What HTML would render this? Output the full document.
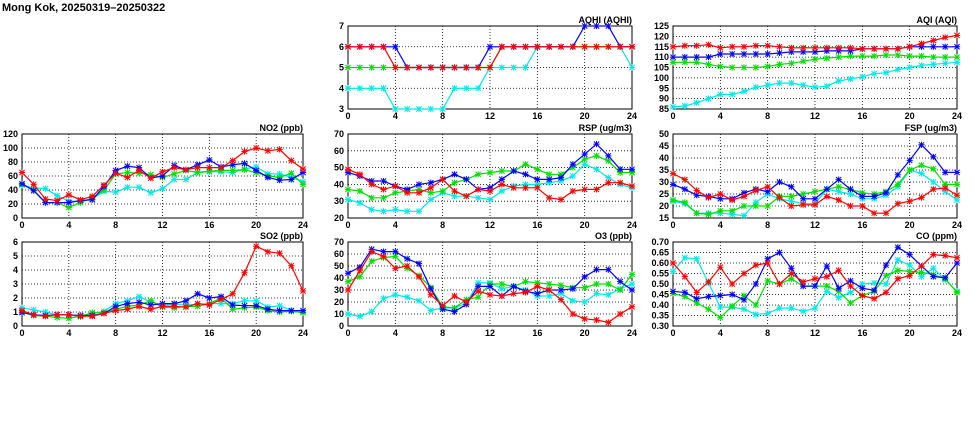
<!DOCTYPE html>
<html><head><meta charset="utf-8"><style>
html,body{margin:0;padding:0;background:#fff;}
svg{display:block;font-family:"Liberation Sans",sans-serif;}
</style></head><body>
<svg id="chart" width="975" height="447" viewBox="0 0 975 447">
<text x="2" y="11" font-size="11" font-weight="bold">Mong Kok, 20250319–20250322</text>
</svg>
<script>
const hours = [0,1,2,3,4,5,6,7,8,9,10,11,12,13,14,15,16,17,18,19,20,21,22,23,24];
const xTicks = [0,4,8,12,16,20,24];
const panelTitles = ["AQHI (AQHI)","AQI (AQI)","NO2 (ppb)","RSP (ug/m3)","FSP (ug/m3)","SO2 (ppb)","O3 (ppb)","CO (ppm)"];
const aqhiRed   = [6,6,6,6,5,5,5,5,5,5,5,5,5,6,6,6,6,6,6,6,6,6,6,6,6];
const aqhiBlue  = [6,6,6,6,6,5,5,5,5,5,5,5,6,6,6,6,6,6,6,6,7,7,7,6,6];
const aqhiGreen = [5,5,5,5,5,5,5,5,5,5,5,5,5,6,6,6,6,6,6,6,6,6,6,6,6];
const aqhiCyan  = [4,4,4,4,3,3,3,3,3,4,4,4,5,5,5,5,6,6,6,6,6,6,6,6,5];
const aqiRed   = [115,115.5,115.5,116,114.5,115,115,115.5,115.5,115,114.5,114.5,114.5,114.5,114.5,114.5,114,114,114,114,115,116.5,118,119.5,120.5];
const aqiBlue  = [110,110,110,110,111.5,111.5,111.5,111.5,111.5,112,112.5,112.5,112.5,113,113,113,114,114,114,114,115,115,115,115,115];
const aqiGreen = [107.5,107.5,107.5,106.5,105.5,105,105,105,105.5,106.5,107,108,109,109.5,110,110.5,110.5,110.5,111,111,110.5,110.5,110,110,110];
const aqiCyan  = [86,86.5,88,90,92,92,93.5,95.5,96.5,97.5,97.5,96.5,95.5,96,98.5,99.5,100.5,102,102.5,104,105,106,106.5,107,107.5];
const no2Red   = [65,48,27,25,33,26,31,47,64,58,68,57,66,72,69,72,72,72,82,95,100,96,98,82,70];
const no2Blue  = [49,39,22,22,22,25,26,45,68,74,72,57,60,75,69,76,83,73,76,78,68,58,54,55,65];
const no2Green = [48,40,22,22,15,22,29,40,63,65,64,62,58,63,68,65,67,68,68,69,65,60,58,64,48];
const no2Cyan  = [47,43,42,32,24,24,27,38,37,44,44,36,42,55,55,65,66,66,65,70,73,63,63,58,52];
const rspRed   = [49,46,40,37,39,35,35,38,43,36,33,37,36,40,38,38,38,32,31,36,37,37,41,41,39];
const rspBlue  = [47,45,42,42,39,37,40,41,43,46,43,37,38,43,48,46,43,43,44,52,58,64,57,49,49];
const rspGreen = [37,36,32,32,35,36,37,35,36,41,43,46,47,48,48,52,49,46,46,50,55,57,54,47,47];
const rspCyan  = [31,29,25,24,25,24,24,31,35,33,33,32,31,36,39,40,40,41,42,45,52,49,44,40,38];
const fspRed   = [33.5,31,26.5,23.5,25,22.5,24,26.5,28,23.5,20,20.5,20.5,24,22.5,20,20,17,17,21,22,23.5,27,27.5,24.5];
const fspBlue  = [29,27,24.5,24,23,23,25.5,27,26,30,28,23,23,27,31,27,24,24,25.5,33,39,45.5,40.5,34,34];
const fspGreen = [22.5,21.5,17,16.5,18,18,20,20,20,24,24,25,26,27,28,27,25.5,25,26,29,35,37,35.5,29,29];
const fspCyan  = [22,21,17,17,17,16.5,16,21.5,25,23,22,21,21,27,26,25,23,23,24.5,28,35,33.5,30,26,22.5];
const so2Red   = [1.1,0.8,0.7,0.8,0.8,0.7,0.7,0.9,1.1,1.2,1.4,1.2,1.4,1.4,1.35,1.6,1.5,1.9,2.3,3.8,5.7,5.3,5.2,4.3,2.5];
const so2Blue  = [0.95,0.8,0.75,0.8,0.8,0.75,0.75,0.9,1.4,1.6,1.7,1.5,1.6,1.6,1.8,2.3,2.0,2.1,1.5,1.45,1.45,1.2,1.1,1.1,1.1];
const so2Green = [1.0,0.75,0.7,0.6,0.55,0.7,0.95,0.95,1.2,1.4,1.5,1.8,1.35,1.3,1.4,1.4,1.6,2.0,1.2,1.3,1.35,1.1,1.0,1.05,0.95];
const so2Cyan  = [1.3,1.15,1.0,0.8,0.8,0.65,0.9,1.05,1.6,1.8,2.1,1.7,1.5,1.55,1.5,1.55,1.6,1.6,1.6,1.8,1.8,1.35,1.45,1.1,1.0];
const o3Red   = [30,46,62,58,48,50,41,26,17,25,20,29,26,25,27,28,33,30,22,10,6,5,3,10,16];
const o3Blue  = [44,49,64,62,62,56,52,31,14,12,18,33,33,25,33,29,27,30,30,31,41,47,47,37,30];
const o3Green = [37,41,54,57,58,48,42,32,16,15,22,24,35,35,33,37,36,35,34,32,32,35,35,30,43];
const o3Cyan  = [10,8,12,23,26,24,21,13,15,15,19,36,36,31,33,30,25,25,27,21,20,27,26,31,35];
const coRed   = [.60,.535,.46,.51,.58,.50,.55,.59,.60,.50,.55,.51,.525,.535,.565,.49,.445,.43,.46,.525,.54,.585,.64,.635,.625];
const coBlue  = [.465,.46,.43,.44,.445,.45,.425,.50,.62,.65,.575,.49,.49,.585,.48,.515,.48,.47,.59,.675,.64,.585,.535,.53,.60];
const coGreen = [.455,.44,.41,.38,.34,.395,.445,.40,.515,.50,.525,.49,.49,.49,.465,.41,.445,.465,.54,.565,.56,.555,.545,.525,.46];
const coCyan  = [.56,.625,.62,.505,.39,.39,.38,.355,.36,.385,.385,.37,.385,.465,.435,.46,.50,.505,.50,.615,.59,.535,.575,.52,.465];
const aqhiTicks = [3,4,5,6,7];
const aqiTicks = [85,90,95,100,105,110,115,120,125];
const no2Ticks = [0,20,40,60,80,100,120];
const rspTicks = [20,30,40,50,60,70];
const fspTicks = [15,20,25,30,35,40,45,50];
const so2Ticks = [0,1,2,3,4,5,6];
const o3Ticks = [0,10,20,30,40,50,60,70];
const coTicks = [0.30,0.35,0.40,0.45,0.50,0.55,0.60,0.65,0.70];

const NS = "http://www.w3.org/2000/svg";
const svg = document.getElementById('chart');
const cols = [[22,303],[348,632],[673,957]];
const rows = [[26,109],[134,218],[242,326]];
const colors = {cyan:"#00e8e8", green:"#00dd00", blue:"#0000ff", red:"#ff0000"};
function mk(tag, attrs, parent){const e=document.createElementNS(NS,tag);for(const k in attrs)e.setAttribute(k,attrs[k]);(parent||svg).appendChild(e);return e;}

const panels = [
 {key:"aqhi",c:1,r:0,ticks:aqhiTicks,dec:0,s:{cyan:aqhiCyan,green:aqhiGreen,blue:aqhiBlue,red:aqhiRed}},
 {key:"aqi",c:2,r:0,ticks:aqiTicks,dec:0,s:{cyan:aqiCyan,green:aqiGreen,blue:aqiBlue,red:aqiRed}},
 {key:"no2",c:0,r:1,ticks:no2Ticks,dec:0,s:{cyan:no2Cyan,green:no2Green,blue:no2Blue,red:no2Red}},
 {key:"rsp",c:1,r:1,ticks:rspTicks,dec:0,s:{cyan:rspCyan,green:rspGreen,blue:rspBlue,red:rspRed}},
 {key:"fsp",c:2,r:1,ticks:fspTicks,dec:0,s:{cyan:fspCyan,green:fspGreen,blue:fspBlue,red:fspRed}},
 {key:"so2",c:0,r:2,ticks:so2Ticks,dec:0,s:{cyan:so2Cyan,green:so2Green,blue:so2Blue,red:so2Red}},
 {key:"o3",c:1,r:2,ticks:o3Ticks,dec:0,s:{cyan:o3Cyan,green:o3Green,blue:o3Blue,red:o3Red}},
 {key:"co",c:2,r:2,ticks:coTicks,dec:2,s:{cyan:coCyan,green:coGreen,blue:coBlue,red:coRed}}
];
const titleOrder = ["aqhi","aqi","no2","rsp","fsp","so2","o3","co"];

panels.forEach(p=>{
  const [x0,x1]=cols[p.c], [y0,y1]=rows[p.r];
  const ymin=p.ticks[0], ymax=p.ticks[p.ticks.length-1];
  const xs=v=>x0+(v-hours[0])/(hours[hours.length-1]-hours[0])*(x1-x0);
  const ys=v=>y1-(v-ymin)/(ymax-ymin)*(y1-y0);
  const g=mk('g',{});
  
  
  // grid
  p.ticks.forEach(t=>{
    const y=ys(t);
    if(t!==ymin&&t!==ymax){const l=mk('line',{x1:x0,x2:x1,y1:y,y2:y,stroke:"#000","stroke-width":0.8,"stroke-dasharray":"1,2"},g);
      }
    const tx=mk('text',{x:x0-4,y:y+3,"font-size":9,"text-anchor":"end","font-weight":"bold"},g);
    tx.textContent=t.toFixed(p.dec);
    
    
  });
  xTicks.forEach(t=>{
    const x=xs(t);
    if(t!==xTicks[0]&&t!==xTicks[xTicks.length-1]){const l=mk('line',{x1:x,x2:x,y1:y0,y2:y1,stroke:"#000","stroke-width":0.8,"stroke-dasharray":"1,2"},g);
      }
    const tx=mk('text',{x:x,y:y1+10,"font-size":9,"text-anchor":"middle","font-weight":"bold"},g);
    tx.textContent=t;
    
    
  });
  const fr=mk('rect',{x:x0,y:y0,width:x1-x0,height:y1-y0,fill:"none",stroke:"#000","stroke-width":1},g);
  
  
  const tt=mk('text',{x:x1,y:y0-3,"font-size":9,"text-anchor":"end","font-weight":"bold"},g);
  tt.textContent=panelTitles[titleOrder.indexOf(p.key)];
  
  
  ["cyan","green","blue","red"].forEach(cn=>{
    const vals=p.s[cn], col=colors[cn];
    const pts=vals.map((v,i)=>xs(hours[i]).toFixed(1)+","+ys(v).toFixed(1)).join(" ");
    const pl=mk('polyline',{points:pts,fill:"none",stroke:col,"stroke-width":1.2},g);
    
    
    vals.forEach((v,i)=>{
      const x=xs(hours[i]), y=ys(v), s=2.6;
      const m=mk('path',{d:`M${x-s},${y-s}L${x+s},${y+s}M${x-s},${y+s}L${x+s},${y-s}M${x},${y-s-0.5}L${x},${y+s+0.5}M${x-s-0.5},${y}L${x+s+0.5},${y}`,stroke:col,"stroke-width":1,fill:"none"},g);
      
      
    });
  });
});
</script>
</body></html>
